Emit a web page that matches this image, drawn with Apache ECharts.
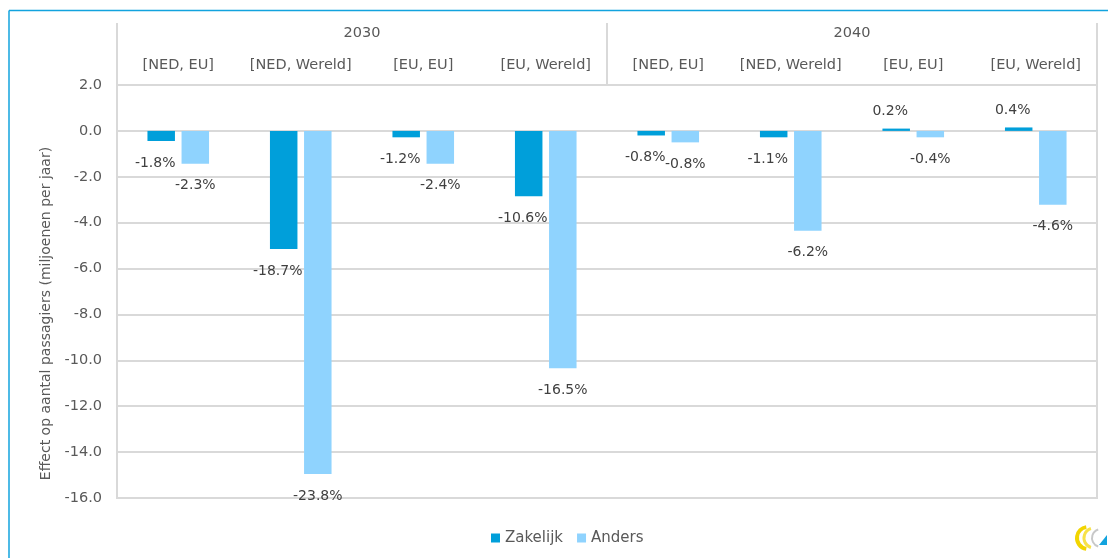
<!DOCTYPE html>
<html>
<head>
<meta charset="utf-8">
<script src="https://cdn.jsdelivr.net/npm/echarts@6/dist/echarts.min.js"></script>
<style>
html,body{margin:0;padding:0;background:#fff;}
#chart{width:1108px;height:558px;}
</style>
</head>
<body>
<div id="chart"></div>
<script>
var categories = ['[NED, EU]', '[NED, Wereld]', '[EU, EU]', '[EU, Wereld]', '[NED, EU]', '[NED, Wereld]', '[EU, EU]', '[EU, Wereld]'];
var groups = ['2030', '2040'];
var zakelijk = [-0.44, -5.15, -0.28, -2.85, -0.2, -0.28, 0.1, 0.15];
var anders = [-1.43, -14.95, -1.43, -10.35, -0.5, -4.35, -0.28, -3.22];
var zakelijkPct = ['-1.8%', '-18.7%', '-1.2%', '-10.6%', '-0.8%', '-1.1%', '0.2%', '0.4%'];
var andersPct = ['-2.3%', '-23.8%', '-2.4%', '-16.5%', '-0.8%', '-6.2%', '-0.4%', '-4.6%'];
var yTicks = { min: -16, max: 2, interval: 2 };

var FONT = 'DejaVu Sans';
var GRIDC = '#d9d9d9';

function items(vals, pcts) {
  return vals.map(function (v, i) {
    return { value: v, pct: pcts[i], label: { distance: v < 0 ? 14 : 9.5 } };
  });
}

var chart = echarts.init(document.getElementById('chart'));
chart.setOption({
  animation: false,
  textStyle: { fontFamily: FONT },
  grid: { left: 117, right: 11, top: 85, bottom: 60, show: true, borderColor: GRIDC, borderWidth: 2 },
  legend: {
    left: 491, top: 530.5, padding: 0,
    icon: 'rect', itemWidth: 9, itemHeight: 9, itemGap: 14,
    textStyle: { color: '#595959', fontSize: 15, fontFamily: FONT },
    data: ['Zakelijk', 'Anders']
  },
  xAxis: [
    {
      type: 'category', position: 'top', data: categories,
      axisLine: { show: false }, axisTick: { show: false },
      axisLabel: { interval: 0, margin: 12, color: '#595959', fontSize: 14.5, lineHeight: 16 }
    },
    {
      type: 'category', position: 'top', data: groups, gridIndex: 0,
      axisLine: { show: false },
      axisTick: { show: true, length: 62, lineStyle: { color: GRIDC, width: 2 } },
      axisLabel: { interval: 0, margin: 44, color: '#595959', fontSize: 14.5, lineHeight: 16 }
    }
  ],
  yAxis: {
    type: 'value', min: yTicks.min, max: yTicks.max, interval: yTicks.interval,
    axisLine: { show: false }, axisTick: { show: false },
    splitLine: { lineStyle: { color: GRIDC, width: 2 } },
    axisLabel: { margin: 15, color: '#595959', fontSize: 14.5, formatter: function (v) { return v.toFixed(1); } },
    name: 'Effect op aantal passagiers (miljoenen per jaar)',
    nameLocation: 'middle', nameRotate: 90, nameGap: 64,
    nameTextStyle: { color: '#595959', fontSize: 14, padding: [0, 44, 0, 0] }
  },
  series: [
    {
      name: 'Zakelijk', type: 'bar', xAxisIndex: 0, barWidth: 27.5, barGap: '24%',
      itemStyle: { color: '#009FDA' },
      data: items(zakelijk, zakelijkPct),
      label: {
        show: true, position: 'outside', offset: [-6, 0], color: '#404040', fontSize: 14, lineHeight: 16,
        formatter: function (p) { return p.data.pct; }
      }
    },
    {
      name: 'Anders', type: 'bar', xAxisIndex: 0, barWidth: 27.5, barGap: '24%',
      itemStyle: { color: '#8FD3FE' },
      data: items(anders, andersPct),
      label: {
        show: true, position: 'outside', color: '#404040', fontSize: 14, lineHeight: 16,
        formatter: function (p) { return p.data.pct; }
      }
    }
  ],
  graphic: [
    { type: 'line', shape: { x1: 9, y1: 10.5, x2: 1108, y2: 10.5 }, style: { stroke: '#12A3DE', lineWidth: 1.5 } },
    { type: 'line', shape: { x1: 9, y1: 10.5, x2: 9, y2: 558 }, style: { stroke: '#12A3DE', lineWidth: 1.5 } },
    { type: 'arc', shape: { cx: 1088, cy: 538, r: 11, startAngle: Math.PI * 0.55, endAngle: Math.PI * 1.45 }, style: { stroke: '#F2D500', lineWidth: 4, fill: null } },
    { type: 'arc', shape: { cx: 1094, cy: 538, r: 10, startAngle: Math.PI * 0.6, endAngle: Math.PI * 1.4 }, style: { stroke: '#F7E24A', lineWidth: 3, fill: null } },
    { type: 'arc', shape: { cx: 1101, cy: 538, r: 9, startAngle: Math.PI * 0.6, endAngle: Math.PI * 1.4 }, style: { stroke: '#C8C8C8', lineWidth: 2, fill: null } },
    { type: 'polygon', shape: { points: [[1099, 545], [1107, 545], [1107, 535]] }, style: { fill: '#12A3DE' } }
  ]
});
</script>
</body>
</html>
